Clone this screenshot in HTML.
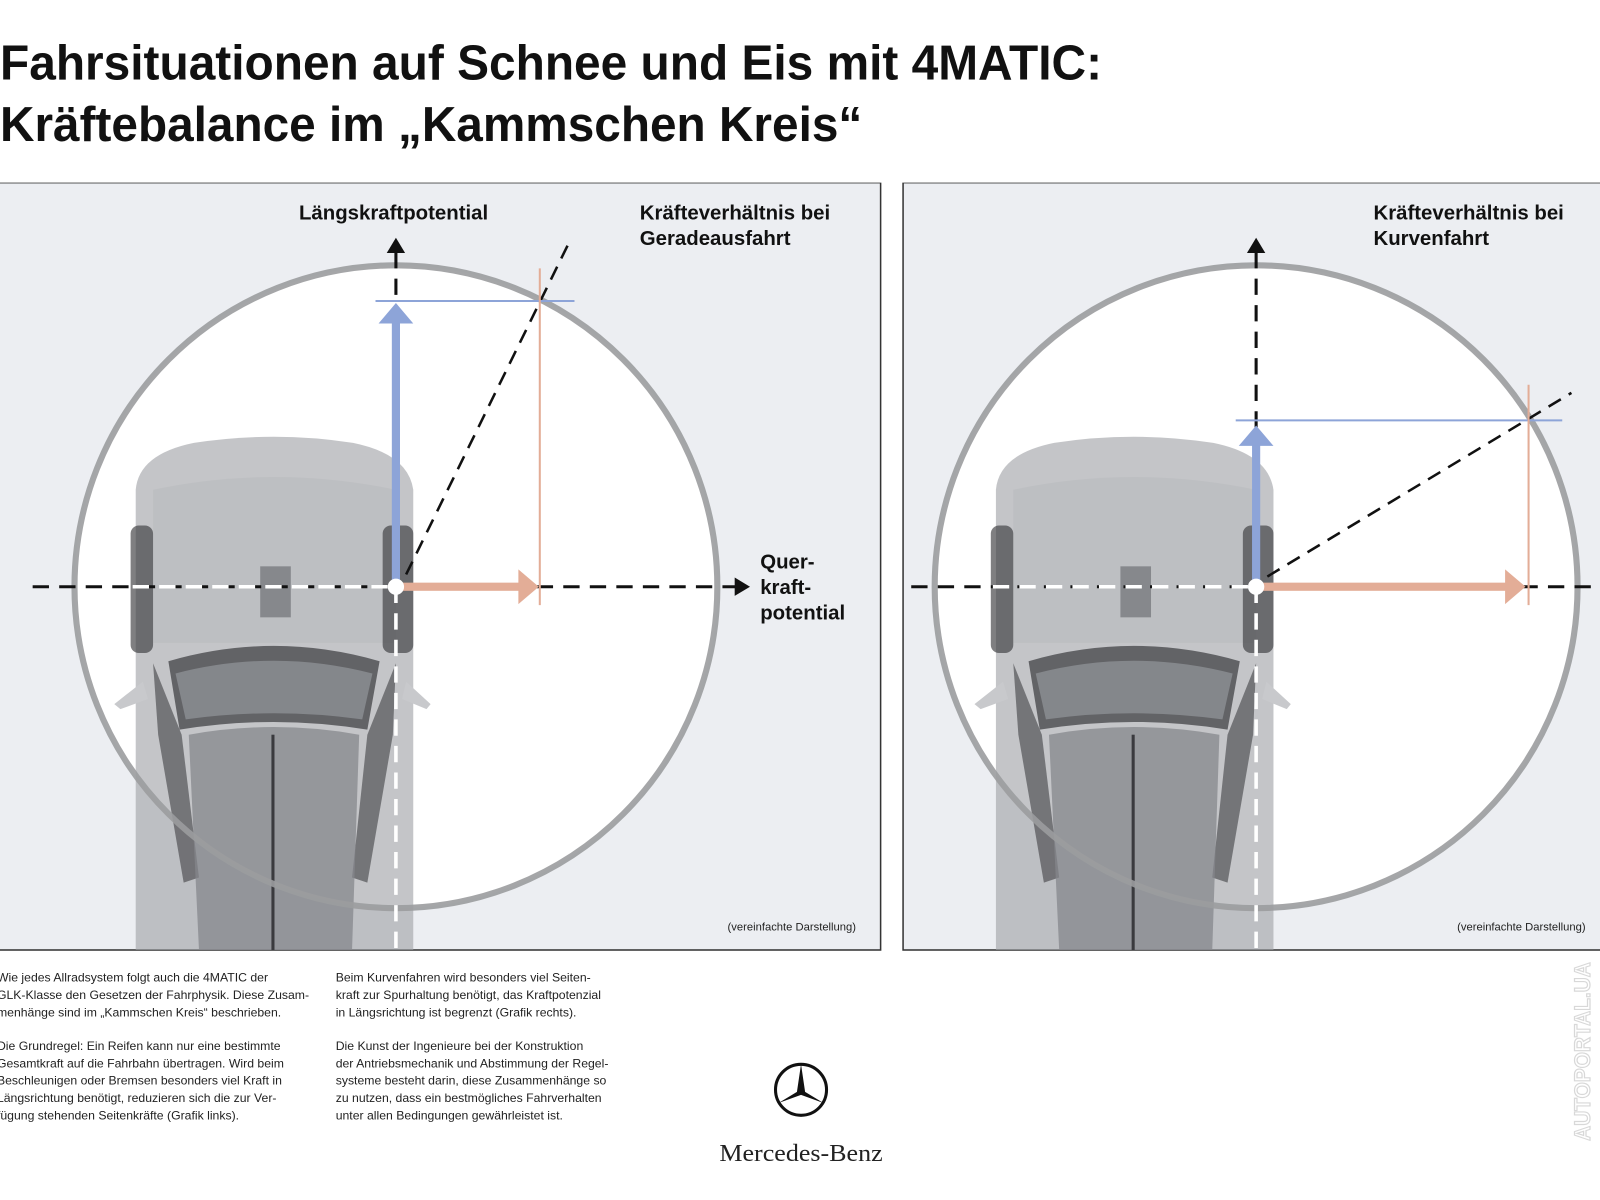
<!DOCTYPE html>
<html><head><meta charset="utf-8"><style>
html,body{margin:0;padding:0;background:#fff;width:1600px;height:1200px;overflow:hidden}
svg{display:block}
text{font-family:"Liberation Sans",sans-serif}
</style></head><body>
<svg width="1600" height="1200" viewBox="0 0 1568 1176" xmlns="http://www.w3.org/2000/svg">
<defs>
<g id="car">
  <path d="M133,480 Q136,445 190,434 Q268,422 346,434 Q400,445 405,480 L405,931 L133,931 Z" fill="#9fa1a6" opacity="0.62"/>
  <path d="M150,480 Q268,455 388,480 L388,630 L150,630 Z" fill="#b4b6ba" opacity="0.4"/>
  <rect x="128" y="515" width="22" height="125" rx="8" fill="#3a3a3e" opacity="0.65"/>
  <rect x="375" y="515" width="30" height="125" rx="8" fill="#3a3a3e" opacity="0.65"/>
  <rect x="255" y="555" width="30" height="50" fill="#6f7175" opacity="0.7"/>
  <path d="M165,648 Q268,618 372,648 L360,715 Q268,700 176,715 Z" fill="#4a4a4e" opacity="0.8"/>
  <path d="M172,660 Q268,635 365,660 L355,705 Q268,693 182,705 Z" fill="#8b8d92" opacity="0.85"/>
  <path d="M150,650 L178,720 L195,860 L180,865 L155,720 Z" fill="#3f3f43" opacity="0.6"/>
  <path d="M388,650 L360,720 L345,860 L360,865 L385,720 Z" fill="#3f3f43" opacity="0.6"/>
  <path d="M185,720 Q268,705 352,720 L345,931 L195,931 Z" fill="#85878c" opacity="0.75"/>
  <rect x="266" y="720" width="3" height="211" fill="#3a3a3e"/>
  <path d="M112,690 L140,668 L145,685 L118,695 Z" fill="#c8c9cc"/>
  <path d="M422,690 L398,668 L394,685 L418,695 Z" fill="#c8c9cc"/>
</g>
</defs>
<rect width="1568" height="1176" fill="#fff"/>
<text x="0" y="78" font-size="48" font-weight="bold" fill="#111" textLength="1080" lengthAdjust="spacingAndGlyphs">Fahrsituationen auf Schnee und Eis mit 4MATIC:</text>
<text x="0" y="138" font-size="48" font-weight="bold" fill="#111" textLength="845" lengthAdjust="spacingAndGlyphs">Kräftebalance im „Kammschen Kreis“</text>

<svg x="0" y="179" width="864" height="753" viewBox="0 179 864 753">
<rect x="-2" y="179" width="865" height="752" fill="#eceef2" stroke="#333" stroke-width="1.5"/>
<circle cx="388" cy="575" r="315" fill="#fff"/>
<use href="#car"/>
<circle cx="388" cy="575" r="315" fill="none" stroke="#9b9c9f" stroke-width="6" opacity="0.9"/>
<line x1="32" y1="575" x2="722" y2="575" stroke="#111" stroke-width="3" stroke-dasharray="16,10"/>
<path d="M720,566 L735,575 L720,584 Z" fill="#111"/>
<line x1="388" y1="575" x2="388" y2="245" stroke="#111" stroke-width="3" stroke-dasharray="16,10"/>
<path d="M379,248 L388,233 L397,248 Z" fill="#111"/>
<line x1="398" y1="563" x2="558" y2="237" stroke="#111" stroke-width="2.5" stroke-dasharray="14,9"/>
<line x1="130" y1="575" x2="388" y2="575" stroke="#fff" stroke-width="3.5" stroke-dasharray="16,10"/>
<line x1="388" y1="575" x2="388" y2="931" stroke="#fff" stroke-width="3.5" stroke-dasharray="16,10"/>
<line x1="368" y1="295" x2="563" y2="295" stroke="#8da4d8" stroke-width="2"/>
<line x1="529" y1="263" x2="529" y2="593" stroke="#e3ad97" stroke-width="2"/>
<rect x="384" y="315" width="8" height="260" fill="#8da4d8"/>
<path d="M371,317 L388,297 L405,317 Z" fill="#8da4d8"/>
<rect x="388" y="571" width="122" height="8" fill="#e3ad97"/>
<path d="M508,558 L528,575 L508,592 Z" fill="#e3ad97"/>
<circle cx="388" cy="575" r="8" fill="#fff"/>
<text x="293" y="215" font-size="20" font-weight="bold" fill="#111">Längskraftpotential</text>
<text x="627" y="215" font-size="20" font-weight="bold" fill="#111">Kräfteverhältnis bei</text>
<text x="627" y="240" font-size="20" font-weight="bold" fill="#111">Geradeausfahrt</text>
<text x="745" y="557" font-size="20" font-weight="bold" fill="#111">Quer-</text>
<text x="745" y="582" font-size="20" font-weight="bold" fill="#111">kraft-</text>
<text x="745" y="607" font-size="20" font-weight="bold" fill="#111">potential</text>
<text x="713" y="912" font-size="11" fill="#222">(vereinfachte Darstellung)</text>
</svg>

<svg x="884" y="179" width="690" height="753" viewBox="884 179 690 753">
<rect x="885" y="179" width="690" height="752" fill="#eceef2" stroke="#333" stroke-width="1.5"/>
<circle cx="1231" cy="575" r="315" fill="#fff"/>
<g transform="translate(843,0)"><use href="#car"/></g>
<circle cx="1231" cy="575" r="315" fill="none" stroke="#9b9c9f" stroke-width="6" opacity="0.9"/>
<line x1="893" y1="575" x2="1575" y2="575" stroke="#111" stroke-width="3" stroke-dasharray="16,10"/>
<line x1="1231" y1="575" x2="1231" y2="245" stroke="#111" stroke-width="3" stroke-dasharray="16,10"/>
<path d="M1222,248 L1231,233 L1240,248 Z" fill="#111"/>
<line x1="1242" y1="565" x2="1540" y2="385" stroke="#111" stroke-width="2.5" stroke-dasharray="14,9"/>
<line x1="973" y1="575" x2="1231" y2="575" stroke="#fff" stroke-width="3.5" stroke-dasharray="16,10"/>
<line x1="1231" y1="575" x2="1231" y2="931" stroke="#fff" stroke-width="3.5" stroke-dasharray="16,10"/>
<line x1="1211" y1="412" x2="1531" y2="412" stroke="#8da4d8" stroke-width="2"/>
<line x1="1498" y1="377" x2="1498" y2="593" stroke="#e3ad97" stroke-width="2"/>
<rect x="1227" y="435" width="8" height="140" fill="#8da4d8"/>
<path d="M1214,437 L1231,417 L1248,437 Z" fill="#8da4d8"/>
<rect x="1231" y="571" width="246" height="8" fill="#e3ad97"/>
<path d="M1475,558 L1495,575 L1475,592 Z" fill="#e3ad97"/>
<circle cx="1231" cy="575" r="8" fill="#fff"/>
<text x="1346" y="215" font-size="20" font-weight="bold" fill="#111">Kräfteverhältnis bei</text>
<text x="1346" y="240" font-size="20" font-weight="bold" fill="#111">Kurvenfahrt</text>
<text x="1428" y="912" font-size="11" fill="#222">(vereinfachte Darstellung)</text>
</svg>

<g font-size="12" fill="#222">
<text x="-3" y="962">Wie jedes Allradsystem folgt auch die 4MATIC der</text>
<text x="-3" y="979">GLK-Klasse den Gesetzen der Fahrphysik. Diese Zusam-</text>
<text x="-3" y="996">menhänge sind im „Kammschen Kreis“ beschrieben.</text>
<text x="-3" y="1029">Die Grundregel: Ein Reifen kann nur eine bestimmte</text>
<text x="-3" y="1046">Gesamtkraft auf die Fahrbahn übertragen. Wird beim</text>
<text x="-3" y="1063">Beschleunigen oder Bremsen besonders viel Kraft in</text>
<text x="-3" y="1080">Längsrichtung benötigt, reduzieren sich die zur Ver-</text>
<text x="-3" y="1097">fügung stehenden Seitenkräfte (Grafik links).</text>
<text x="329" y="962">Beim Kurvenfahren wird besonders viel Seiten-</text>
<text x="329" y="979">kraft zur Spurhaltung benötigt, das Kraftpotenzial</text>
<text x="329" y="996">in Längsrichtung ist begrenzt (Grafik rechts).</text>
<text x="329" y="1029">Die Kunst der Ingenieure bei der Konstruktion</text>
<text x="329" y="1046">der Antriebsmechanik und Abstimmung der Regel-</text>
<text x="329" y="1063">systeme besteht darin, diese Zusammenhänge so</text>
<text x="329" y="1080">zu nutzen, dass ein bestmögliches Fahrverhalten</text>
<text x="329" y="1097">unter allen Bedingungen gewährleistet ist.</text>
</g>

<circle cx="785" cy="1068" r="25" fill="none" stroke="#111" stroke-width="3"/>
<path d="M785,1043 L789,1070 L807,1081 L785,1073 L763,1081 L781,1070 Z" fill="#111"/>
<text x="705" y="1138" font-size="24" fill="#222" style="font-family:'Liberation Serif',serif" textLength="160" lengthAdjust="spacingAndGlyphs">Mercedes-Benz</text>

<text transform="translate(1558,1118) rotate(-90)" font-size="22" font-weight="bold" fill="none" stroke="#d8d8d8" stroke-width="1.2" textLength="175" lengthAdjust="spacingAndGlyphs">AUTOPORTAL.UA</text>
</svg>
</body></html>
